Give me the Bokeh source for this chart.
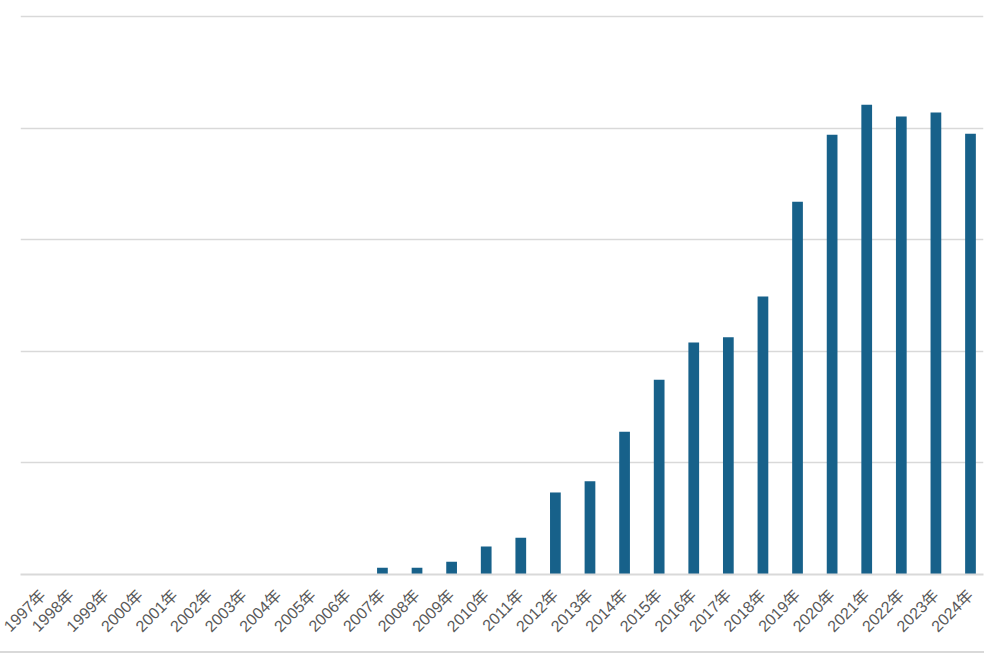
from bokeh.plotting import figure
from bokeh.models import Range1d, FixedTicker
from bokeh.embed import file_html
from bokeh.resources import INLINE

years = [str(y) for y in range(1997, 2025)]
year_labels = [y + "年" for y in years]
values = [0, 0, 0, 0, 0, 0, 0, 0, 0, 0,
          12, 12, 23, 50, 66, 147, 167, 256, 349, 416,
          425, 498, 668, 788, 842, 821, 828, 790]
y_ticks = [0, 200, 400, 600, 800, 1000]

xs = list(range(len(years)))

p = figure(width=984, height=653, output_backend="svg", toolbar_location=None,
           x_range=Range1d(-0.4626, len(years) - 1 + 0.376),
           y_range=Range1d(0, 1003.6),
           min_border_left=20, min_border_top=14, min_border_right=1,
           min_border_bottom=79)
p.outline_line_color = None
p.background_fill_color = "white"
p.border_fill_color = "white"

p.vbar(x=xs, top=values, width=0.31, color="#17618a", line_color=None)

p.xaxis.ticker = FixedTicker(ticks=xs)
p.xaxis.major_label_overrides = {i: lab for i, lab in enumerate(year_labels)}
p.xaxis.major_label_orientation = 0.785398
p.xaxis.major_label_text_font = "Liberation Sans, Noto Sans CJK SC"
p.xaxis.major_label_text_font_size = "16px"
p.xaxis.major_label_text_color = "#595959"
p.xaxis.major_tick_line_color = None
p.xaxis.minor_tick_line_color = None
p.xaxis.axis_line_color = "#d9d9d9"
p.xaxis.axis_line_width = 2
p.xaxis.major_label_standoff = 12

p.yaxis.visible = False
p.yaxis.ticker = FixedTicker(ticks=y_ticks)
p.xgrid.grid_line_color = None
p.ygrid.ticker = FixedTicker(ticks=y_ticks)
p.ygrid.grid_line_color = "#d9d9d9"
p.ygrid.grid_line_width = 1.5

p.styles = {"border-bottom": "2px solid #d9d9d9"}

open("out.html", "w").write(file_html(p, INLINE))
